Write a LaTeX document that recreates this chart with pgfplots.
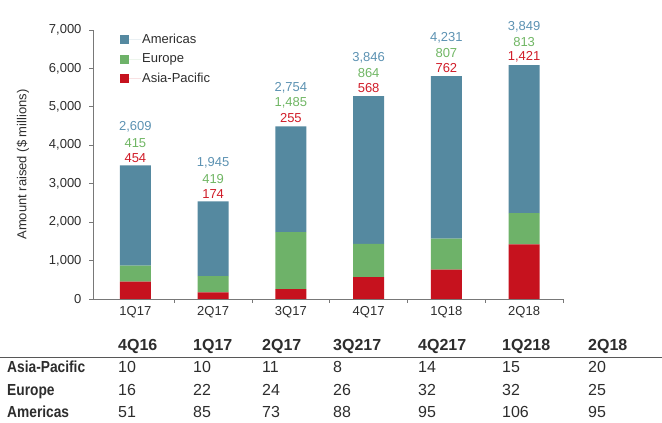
\documentclass[border=0pt]{standalone}
\usepackage{pgfplots}
\pgfplotsset{compat=1.18}
\usepackage{fontspec}
\setmainfont{Liberation Sans}
\newfontfamily\narrowfont{Liberation Sans}[FakeStretch=0.86]
\definecolor{am}{RGB}{85,137,160}
\definecolor{eu}{RGB}{110,178,105}
\definecolor{ap}{RGB}{198,18,30}
\definecolor{amT}{RGB}{92,146,178}
\definecolor{euT}{RGB}{112,182,100}
\definecolor{apT}{RGB}{208,28,40}
\definecolor{axisgray}{RGB}{120,120,120}
\definecolor{txt}{RGB}{45,45,45}
\pgfplotsset{
  sq/.style={legend image code/.code={\fill[#1] (0pt,-4.5pt) rectangle (9pt,4.5pt); \path (0pt,0pt) -- (21pt,0pt);}},
  frame/.style={at={(93pt,124pt)}, anchor=south west,
    scale only axis, width=470pt, height=269pt,
    xmin=-0.545, xmax=5.5, ymin=0, ymax=7000},
  lab/.style={draw=none, mark=none, nodes near coords, point meta=explicit symbolic,
    every node near coord/.append style={text=#1}},
}
\begin{document}
\begin{tikzpicture}[x=1pt,y=1pt]
\path[use as bounding box] (0,0) rectangle (662,423);
\begin{axis}[
  frame,
  ybar stacked, bar width=0.4,
  axis lines*=left,
  axis line style={draw=axisgray, line width=0.8pt},
  xtick={0,1,2,3,4,5},
  xticklabels={1Q17,2Q17,3Q17,4Q17,1Q18,2Q18},
  minor xtick={0.5,1.5,2.5,3.5,4.5,5.5},
  major x tick style={draw=none},
  ytick={0,1000,...,7000},
  tick align=outside, major tick length=4pt, minor tick length=4pt,
  tick style={draw=axisgray, line width=0.8pt},
  /pgf/number format/assume math mode=true,
  /pgf/number format/1000 sep={,},
  ticklabel style={font=\fontsize{13}{15}\selectfont, text=txt},
  yticklabel style={xshift=-4pt},
  ylabel={Amount raised (\$ millions)},
  ylabel style={font=\fontsize{13}{15}\selectfont, text=txt, at={(axis description cs:-0.149,0.5)}, anchor=center},
  reverse legend,
  legend style={at={(axis description cs:0.0574,0.99)}, anchor=north west, draw=none, fill=none,
    font=\fontsize{13}{15}\selectfont, text=txt, row sep=7pt, inner sep=0pt,
    nodes={inner sep=1pt, text=txt}},
  legend cell align=left,
]
\addplot[fill=ap, draw=none, sq=ap] coordinates {(0,454) (1,174) (2,255) (3,568) (4,762) (5,1421)};
\addlegendentry{Asia-Pacific}
\addplot[fill=eu, draw=none, sq=eu] coordinates {(0,415) (1,419) (2,1485) (3,864) (4,807) (5,813)};
\addlegendentry{Europe}
\addplot[fill=am, draw=none, sq=am] coordinates {(0,2609) (1,1945) (2,2754) (3,3846) (4,4231) (5,3849)};
\addlegendentry{Americas}
\end{axis}
% value labels above the bars (bar totals)
\begin{axis}[frame, hide axis, clip=false,
  every node near coord/.style={font=\fontsize{13}{15}\selectfont, anchor=south, inner sep=0pt}]
\addplot[lab=apT, every node near coord/.append style={yshift=3pt}]
  coordinates {(0,3478) [454] (1,2538) [174] (2,4494) [255] (3,5278) [568] (4,5800) [762] (5,6083) [{1,421}]};
\addplot[lab=euT, every node near coord/.append style={yshift=18pt}]
  coordinates {(0,3478) [415] (1,2538) [419] (2,4494) [{1,485}] (3,5278) [864] (4,5800) [807] (5,6083) [813]};
\addplot[lab=amT, every node near coord/.append style={yshift=33pt}]
  coordinates {(0,3478) [{2,609}] (1,2538) [{1,945}] (2,4494) [{2,754}] (3,5278) [{3,846}] (4,5800) [{4,231}] (5,6083) [{3,849}]};
\end{axis}
% table below the chart
\begin{scope}[every node/.style={anchor=base west, inner sep=0pt, text=txt, font=\fontsize{16}{18}\selectfont}]
\foreach \x/\t in {118/4Q16,193/1Q17,262/2Q17,333/3Q217,418/4Q217,502/1Q218,588/2Q18}
  \node[font=\fontsize{16}{18}\selectfont\bfseries] at (\x,72) {\t};
\draw[draw=txt!80, line width=0.9pt] (0,66) -- (662,66);
\node[font=\fontsize{16}{18}\selectfont\narrowfont\bfseries] at (7,50) {Asia-Pacific};
\node[font=\fontsize{16}{18}\selectfont\narrowfont\bfseries] at (7,27) {Europe};
\node[font=\fontsize{16}{18}\selectfont\narrowfont\bfseries] at (7,5) {Americas};
\foreach \x/\a/\e/\m in {118/10/16/51,193/10/22/85,262/11/24/73,333/8/26/88,418/14/32/95,502/15/32/106,588/20/25/95}{
  \node at (\x,50) {\a};
  \node at (\x,27) {\e};
  \node at (\x,5) {\m};
}
\end{scope}
\end{tikzpicture}
\end{document}
